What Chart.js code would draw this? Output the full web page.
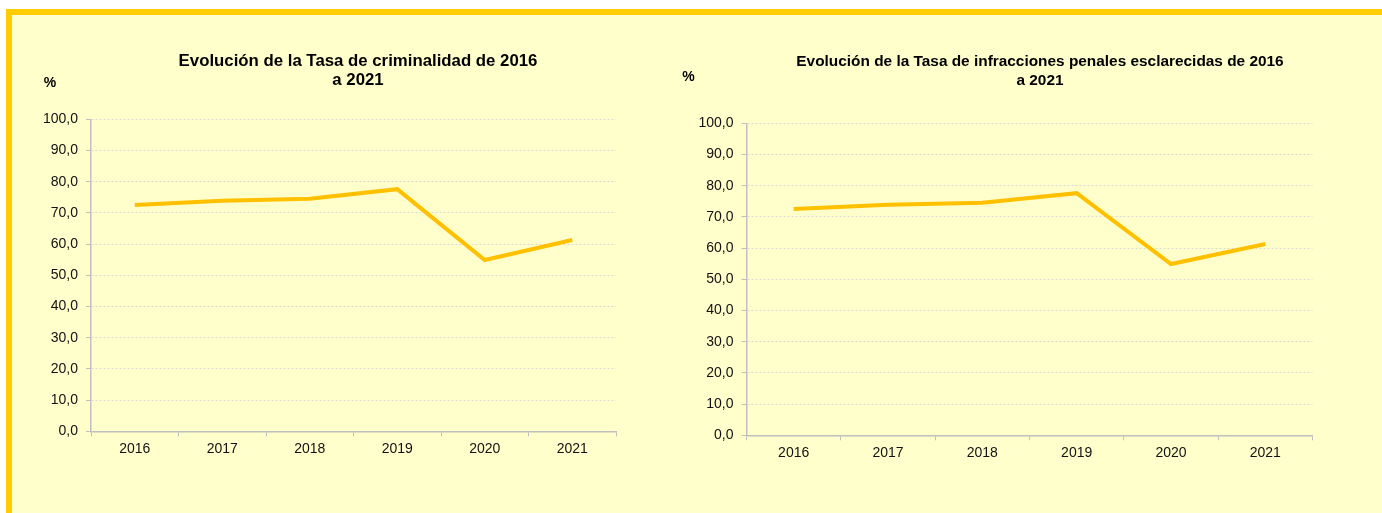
<!DOCTYPE html>
<html lang="es">
<head>
<meta charset="utf-8">
<title>Tasa de criminalidad y esclarecimiento 2016-2021</title>
<script src="https://cdn.jsdelivr.net/npm/chart.js@4"></script>
<style>
  html, body { margin: 0; padding: 0; background: #fff; overflow: hidden; }
  body { width: 1382px; height: 513px; position: relative; }
  .frame {
    position: absolute; left: 6px; top: 9px; width: 1376px; height: 504px;
    box-sizing: border-box; background: #FFFFCC;
    border-top: 6px solid #FFCC00; border-left: 6px solid #FFCC00;
  }
  canvas { position: absolute; }
</style>
</head>
<body>
<div class="frame"></div>
<canvas id="chartCriminalidad" width="692" height="498" style="left:12px;top:15px"></canvas>
<canvas id="chartEsclarecidas" width="740" height="498" style="left:670px;top:15px"></canvas>
<script>
const years = ['2016', '2017', '2018', '2019', '2020', '2021'];
const tasaCriminalidad = [72.5, 73.9, 74.5, 77.6, 54.9, 61.3];
const tasaEsclarecidas = [72.5, 73.9, 74.5, 77.6, 54.9, 61.3];
const yTickLabels = ['0,0', '10,0', '20,0', '30,0', '40,0', '50,0', '60,0', '70,0', '80,0', '90,0', '100,0'];

const titleCriminalidad = ['Evolución de la Tasa de criminalidad de 2016', 'a 2021'];
const titleEsclarecidas = ['Evolución de la Tasa de infracciones penales esclarecidas de 2016', 'a 2021'];

const FONT = "'Liberation Sans', Arial, sans-serif";
const GRID = '#D9D9D9';
const AXIS = '#BFBFBF';

// "%" unit label sitting above the y axis
const unitLabel = {
  id: 'unitLabel',
  afterDraw(chart, args, opts) {
    const { ctx, chartArea } = chart;
    ctx.save();
    ctx.font = 'bold 14px ' + FONT;
    ctx.fillStyle = '#000';
    ctx.textAlign = 'center';
    ctx.textBaseline = 'middle';
    ctx.fillText(opts.text, chartArea.left + opts.dx, chartArea.top + opts.dy);
    ctx.restore();
  }
};

function makeChart(id, title, values, box) {
  new Chart(document.getElementById(id), {
    type: 'line',
    data: {
      labels: years,
      datasets: [{
        data: values,
        borderColor: '#FFC000',
        borderWidth: 4,
        pointRadius: 0,
        tension: 0,
        fill: false
      }]
    },
    options: {
      responsive: false,
      animation: false,
      plugins: {
        legend: { display: false },
        tooltip: { enabled: false },
        title: {
          display: true,
          text: title,
          color: '#000',
          font: { family: FONT, size: box.titleSize, weight: 'bold', lineHeight: '19px' },
          padding: { top: box.titleTop, bottom: box.titleBottom }
        },
        unitLabel: { text: '%', dx: box.unitDx, dy: box.unitDy }
      },
      scales: {
        x: {
          offset: true,
          grid: { offset: true, drawOnChartArea: false, drawTicks: true, tickLength: 5, tickColor: AXIS },
          border: { color: AXIS, width: 1.5 },
          ticks: { color: '#111', padding: 4, font: { family: FONT, size: 14 } },
          afterFit(s) { s.height = box.xHeight; }
        },
        y: {
          min: 0,
          max: 100,
          grid: { color: GRID, tickLength: 5, tickColor: AXIS },
          border: { color: AXIS, width: 1.5, dash: [2, 2] },
          ticks: {
            stepSize: 10,
            padding: 8,
            color: '#111',
            font: { family: FONT, size: 14 },
            callback: (v, i) => yTickLabels[i]
          },
          afterFit(s) { s.width = box.yWidth; }
        },
        spacer: {
          axis: 'y',
          position: 'right',
          display: true,
          grid: { display: false },
          border: { display: false },
          ticks: { display: false },
          afterFit(s) { s.width = box.rightWidth; }
        }
      }
    },
    plugins: [unitLabel]
  });
}

makeChart('chartCriminalidad', titleCriminalidad, tasaCriminalidad, {
  titleSize: 16.8, titleTop: 37.2, titleBottom: 29.1, xHeight: 81.7, yWidth: 79, rightWidth: 88, unitDx: -41, unitDy: -36
});
makeChart('chartEsclarecidas', titleEsclarecidas, tasaEsclarecidas, {
  titleSize: 15.4, titleTop: 37.2, titleBottom: 33.1, xHeight: 77.7, yWidth: 76.5, rightWidth: 97.5, unitDx: -58, unitDy: -46.6
});
</script>
</body>
</html>
